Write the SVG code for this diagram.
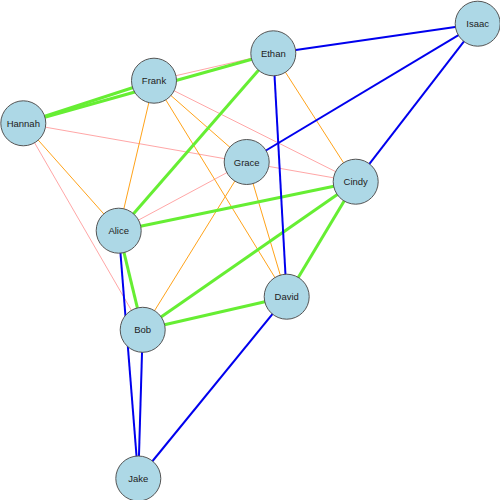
<svg xmlns="http://www.w3.org/2000/svg" width="500" height="500" viewBox="0 0 500 500">
<style>
.n circle{fill:#add8e6;stroke:#555;stroke-width:1}
.n text{font-family:"Liberation Sans",Arial,sans-serif;font-size:9.5px;fill:#222;text-anchor:middle;dominant-baseline:central}
.b{stroke:#0000ee;stroke-width:2}
.g{stroke:#66ee33;stroke-width:3}
.o{stroke:#ffa31a;stroke-width:1}
.r{stroke:#ff4444;stroke-width:0.8;stroke-opacity:0.6}
</style>
<rect width="500" height="500" fill="#fff"/>
<g id="connectors" fill="none">
<line class="r" x1="154" y1="80.7" x2="273.3" y2="53.3"/>
<line class="r" x1="154" y1="80.7" x2="355.7" y2="181.7"/>
<line class="r" x1="23.3" y1="123.3" x2="355.7" y2="181.7"/>
<line class="r" x1="118.7" y1="230.7" x2="246.7" y2="162"/>
<line class="r" x1="23.3" y1="123.3" x2="142.7" y2="329.8"/>
<line class="o" x1="154" y1="80.7" x2="118.7" y2="230.7"/>
<line class="o" x1="154" y1="80.7" x2="246.7" y2="162"/>
<line class="o" x1="154" y1="80.7" x2="286.7" y2="296.7"/>
<line class="o" x1="23.3" y1="123.3" x2="118.7" y2="230.7"/>
<line class="o" x1="273.3" y1="53.3" x2="355.7" y2="181.7"/>
<line class="o" x1="246.7" y1="162" x2="142.7" y2="329.8"/>
<line class="o" x1="246.7" y1="162" x2="286.7" y2="296.7"/>
<line class="g" x1="23.3" y1="123.3" x2="154" y2="80.7"/>
<line class="g" x1="23.3" y1="123.3" x2="273.3" y2="53.3"/>
<line class="g" x1="273.3" y1="53.3" x2="118.7" y2="230.7"/>
<line class="g" x1="118.7" y1="230.7" x2="355.7" y2="181.7"/>
<line class="g" x1="142.7" y1="329.8" x2="355.7" y2="181.7"/>
<line class="g" x1="142.7" y1="329.8" x2="286.7" y2="296.7"/>
<line class="g" x1="286.7" y1="296.7" x2="355.7" y2="181.7"/>
<line class="g" x1="118.7" y1="230.7" x2="142.7" y2="329.8"/>
<line class="b" x1="273.3" y1="53.3" x2="477.7" y2="23.7"/>
<line class="b" x1="477.7" y1="23.7" x2="246.7" y2="162"/>
<line class="b" x1="477.7" y1="23.7" x2="355.7" y2="181.7"/>
<line class="b" x1="273.3" y1="53.3" x2="286.7" y2="296.7"/>
<line class="b" x1="118.7" y1="230.7" x2="138.3" y2="478.5"/>
<line class="b" x1="142.7" y1="329.8" x2="138.3" y2="478.5"/>
<line class="b" x1="286.7" y1="296.7" x2="138.3" y2="478.5"/>
</g>
<g id="Isaac" class="n"><circle cx="477.7" cy="23.7" r="22.5"/><text x="477.7" y="23.7">Isaac</text></g>
<g id="Ethan" class="n"><circle cx="273.3" cy="53.3" r="22.5"/><text x="273.3" y="53.3">Ethan</text></g>
<g id="Frank" class="n"><circle cx="154" cy="80.7" r="22.5"/><text x="154" y="80.7">Frank</text></g>
<g id="Hannah" class="n"><circle cx="23.3" cy="123.3" r="22.5"/><text x="23.3" y="123.3">Hannah</text></g>
<g id="Grace" class="n"><circle cx="246.7" cy="162" r="22.5"/><text x="246.7" y="162">Grace</text></g>
<g id="Cindy" class="n"><circle cx="355.7" cy="181.7" r="22.5"/><text x="355.7" y="181.7">Cindy</text></g>
<g id="Alice" class="n"><circle cx="118.7" cy="230.7" r="22.5"/><text x="118.7" y="230.7">Alice</text></g>
<g id="David" class="n"><circle cx="286.7" cy="296.7" r="22.5"/><text x="286.7" y="296.7">David</text></g>
<g id="Bob" class="n"><circle cx="142.7" cy="329.8" r="22.5"/><text x="142.7" y="329.8">Bob</text></g>
<g id="Jake" class="n"><circle cx="138.3" cy="478.5" r="22.5"/><text x="138.3" y="478.5">Jake</text></g>
</svg>
